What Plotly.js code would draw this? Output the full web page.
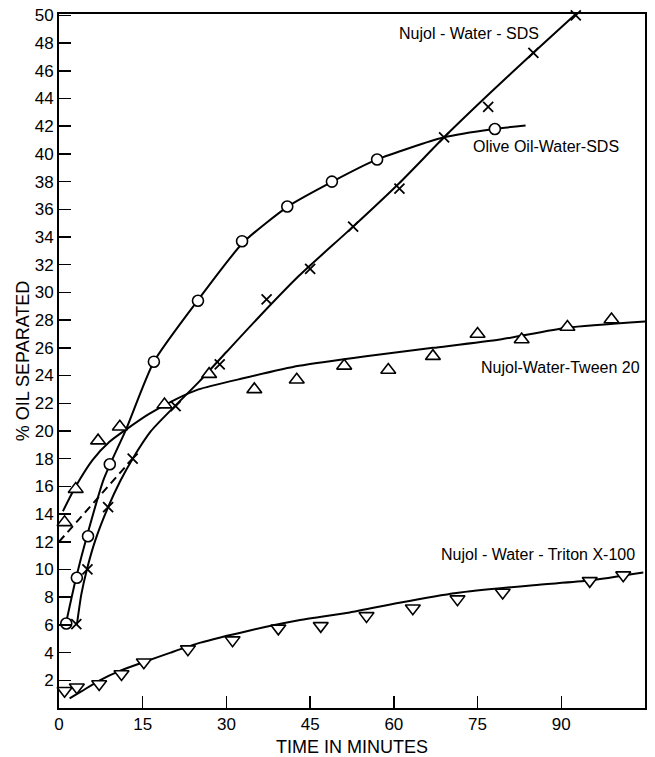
<!DOCTYPE html>
<html>
<head>
<meta charset="utf-8">
<script src="https://cdn.plot.ly/plotly-3.0.1.min.js"></script>
<style>html,body{margin:0;padding:0;background:#fff;}#chart{width:655px;height:757px;}</style>
</head>
<body>
<div id="chart"></div>
<script>
// ---- Data ----
// Olive Oil - Water - SDS (circles)
const oliveX = [1.3, 3.2, 5.2, 9.1, 17.0, 24.9, 32.8, 40.9, 48.9, 57.0, 78.1];
const oliveY = [6.1, 9.4, 12.4, 17.6, 25.0, 29.4, 33.7, 36.2, 38.0, 39.6, 41.8];
const oliveCurveX = [1.4, 3.0, 5.0, 8.0, 12.0, 17.0, 25.0, 33.0, 41.0, 49.0, 57.0, 69.0, 78.0, 83.6];
const oliveCurveY = [6.4, 9.3, 12.4, 16.5, 20.1, 25.0, 29.5, 33.6, 36.2, 38.0, 39.6, 41.2, 41.8, 42.05];

// Nujol - Water - SDS (x marks)
const sdsX = [3.1, 5.1, 8.8, 13.2, 20.9, 28.8, 37.2, 45.0, 52.7, 61.0, 69.0, 76.9, 85.0, 92.6];
const sdsY = [6.06, 10.0, 14.5, 18.0, 21.8, 24.8, 29.5, 31.7, 34.75, 37.5, 41.2, 43.4, 47.3, 50.0];
const sdsCurveX = [3.2, 4.0, 5.0, 6.5, 8.8, 11.0, 13.2, 16.5, 20.9, 25.2, 30.0, 36.0, 43.0, 52.7, 61.0, 69.0, 77.0, 85.0, 92.6];
const sdsCurveY = [6.0, 8.2, 10.0, 12.1, 14.5, 16.4, 18.0, 20.0, 21.85, 23.6, 25.7, 28.3, 31.2, 34.75, 37.9, 41.2, 44.3, 47.3, 50.1];
const sdsDashX = [0, 13.2];
const sdsDashY = [12.0, 18.0];

// Nujol - Water - Tween 20 (triangles up)
const tweenX = [1.0, 3.0, 7.0, 10.9, 18.9, 26.9, 35.0, 42.6, 51.1, 59.0, 67.0, 75.0, 82.9, 91.1, 99.0];
const tweenY = [13.4, 15.8, 19.3, 20.3, 21.9, 24.1, 23.0, 23.7, 24.7, 24.4, 25.4, 27.0, 26.6, 27.5, 28.05];
const tweenCurveX = [0.7, 3.0, 6.0, 9.0, 12.0, 16.0, 21.0, 25.0, 33.0, 43.0, 55.0, 67.0, 79.0, 91.0, 105.0];
const tweenCurveY = [14.2, 16.0, 17.9, 19.2, 20.1, 21.2, 22.3, 23.0, 23.8, 24.7, 25.4, 26.0, 26.6, 27.45, 27.9];

// Nujol - Water - Triton X-100 (triangles down)
const tritonX = [1.0, 3.2, 7.2, 11.2, 15.2, 23.1, 31.1, 39.3, 46.9, 55.1, 63.4, 71.4, 79.5, 95.1, 101.1];
const tritonY = [1.25, 1.5, 1.73, 2.45, 3.3, 4.25, 4.9, 5.75, 5.93, 6.65, 7.2, 7.86, 8.34, 9.18, 9.59];
const tritonCurveX = [1.9, 4.0, 7.3, 11.0, 15.1, 20.0, 25.2, 34.2, 43.2, 52.1, 61.0, 71.2, 85.0, 95.0, 104.7];
const tritonCurveY = [0.7, 1.2, 2.0, 2.7, 3.3, 4.0, 4.7, 5.6, 6.35, 6.9, 7.6, 8.3, 8.87, 9.2, 9.78];

// Ticks and labels
const xTickVals = [0, 15, 30, 45, 60, 75, 90, 105];
const yTickVals = [2, 4, 6, 8, 10, 12, 14, 16, 18, 20, 22, 24, 26, 28, 30, 32, 34, 36, 38, 40, 42, 44, 46, 48, 50];
const seriesLabels = ["Nujol - Water - SDS", "Olive Oil-Water-SDS", "Nujol-Water-Tween 20", "Nujol - Water - Triton X-100"];
const xTitle = "TIME IN MINUTES";
const yTitle = "% OIL SEPARATED";

// ---- Styling ----
const FONT = "Liberation Sans, Arial, sans-serif";
const lineStyle = {color: "#000", width: 2, shape: "spline", smoothing: 0.6};
function curve(x, y, extra) {
  return Object.assign({x: x, y: y, mode: "lines", line: lineStyle, hoverinfo: "skip", showlegend: false}, extra || {});
}
function pts(x, y, symbol, size) {
  const filled = symbol.indexOf("x-thin") !== 0;
  return {x: x, y: y, mode: "markers", showlegend: false, cliponaxis: false,
    marker: {symbol: symbol, size: size, color: filled ? "#fff" : "#000",
      line: {color: "#000", width: filled ? 1.6 : 1.8}}};
}

const traces = [
  curve(oliveCurveX, oliveCurveY),
  curve(sdsCurveX, sdsCurveY),
  curve(sdsDashX, sdsDashY, {line: {color: "#000", width: 2, dash: "8px,5px"}}),
  curve(tweenCurveX, tweenCurveY),
  curve(tritonCurveX, tritonCurveY),
  pts(oliveX, oliveY, "circle", 11),
  pts(sdsX, sdsY, "x-thin", 10),
  pts(tweenX, tweenY, "triangle-up", 13),
  pts(tritonX, tritonY, "triangle-down", 13)
];

const annFont = {family: FONT, size: 16, color: "#000"};
const layout = {
  width: 655, height: 757,
  margin: {l: 59, r: 10, t: 14, b: 49, pad: 0},
  paper_bgcolor: "#fff", plot_bgcolor: "#fff",
  font: {family: FONT, size: 16, color: "#000"},
  showlegend: false,
  xaxis: {
    range: [0, 105], tickvals: xTickVals, ticktext: xTickVals.map(String),
    ticks: "inside", ticklen: 12, tickwidth: 1.5, tickcolor: "#000",
    showline: true, linewidth: 2, linecolor: "#000", mirror: true,
    showgrid: false, zeroline: false,
    tickfont: {family: FONT, size: 17},
    title: {text: xTitle, font: {family: FONT, size: 18}, standoff: 16}
  },
  yaxis: {
    range: [0, 50.1], tickvals: yTickVals, ticktext: yTickVals.map(String),
    ticks: "inside", ticklen: 12, tickwidth: 1.5, tickcolor: "#000",
    showline: true, linewidth: 2, linecolor: "#000", mirror: true,
    showgrid: false, zeroline: false,
    tickfont: {family: FONT, size: 17},
    title: {text: yTitle, font: {family: FONT, size: 18}, standoff: 0}
  },
  annotations: [
    {x: 60.5, y: 48.7, xref: "x", yref: "y", text: seriesLabels[0], showarrow: false, xanchor: "left", yanchor: "middle", font: annFont},
    {x: 73.8, y: 40.5, xref: "x", yref: "y", text: seriesLabels[1], showarrow: false, xanchor: "left", yanchor: "middle", font: annFont},
    {x: 104.4, y: 24.55, xref: "x", yref: "y", text: seriesLabels[2], showarrow: false, xanchor: "right", yanchor: "middle", font: annFont},
    {x: 103.5, y: 11.1, xref: "x", yref: "y", text: seriesLabels[3], showarrow: false, xanchor: "right", yanchor: "middle", font: annFont}
  ]
};

Plotly.newPlot("chart", traces, layout, {staticPlot: true, displayModeBar: false});
</script>
</body>
</html>
